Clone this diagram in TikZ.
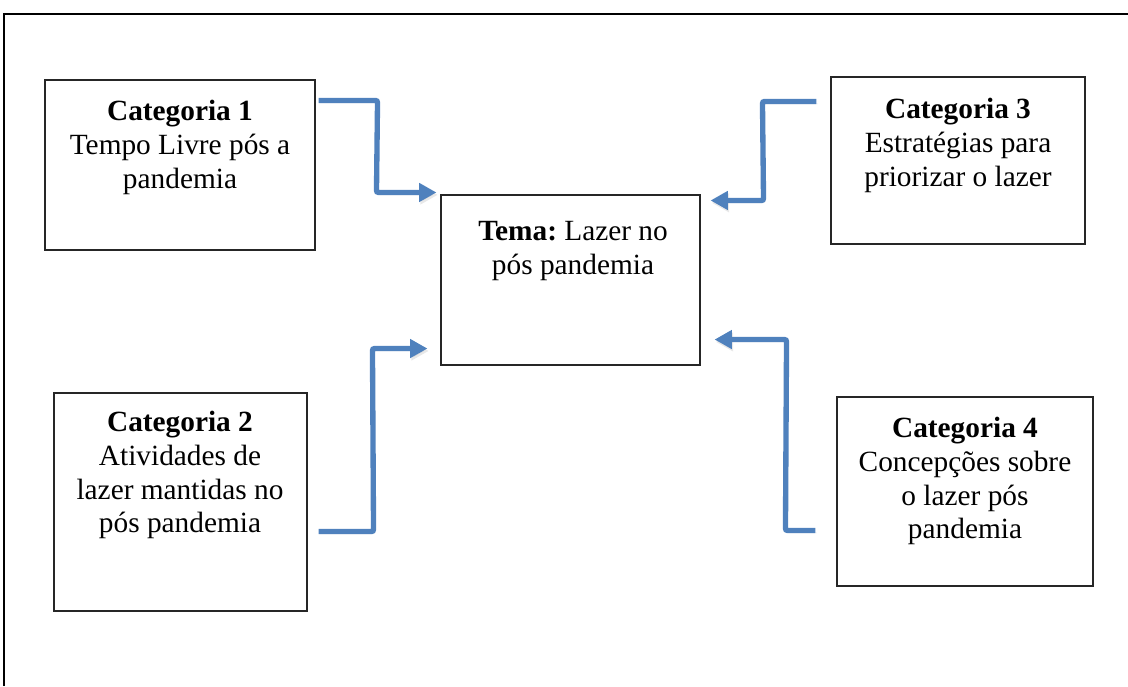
\documentclass[tikz,border=0pt]{standalone}
\usepackage{fontspec}
\setmainfont{Liberation Serif}
\usetikzlibrary{arrows.meta,fit,calc}
\definecolor{arrblue}{HTML}{4F81BD}
\begin{document}
\begin{tikzpicture}[x=0.75pt,y=-0.75pt,
  box/.style={draw=black!85,line width=0.8pt,inner sep=0pt},
  txt/.style={anchor=north,align=center,inner sep=0pt,font=\fontsize{22}{25.3}\selectfont\frenchspacing},
  arr/.style={line width=4pt,draw=arrblue,rounded corners=1.5pt,
    -{Triangle[length=13pt,width=13.5pt]},
    preaction={draw=black!30,opacity=0.3,transform canvas={shift={(1pt,-1.8pt)}}}}]
\useasboundingbox (0,0) rectangle (1128,686);
% page frame (left and top edges)
\draw[line width=0.9pt] (4,686) -- (4,14) -- (1128,14);
% boxes
\node[box,fit={(45,80) (315,250)}] (c1) {};
\node[box,fit={(831,77) (1085,244)}] (c3) {};
\node[box,fit={(441,195) (700,365)}] (tema) {};
\node[box,fit={(54,393) (307,611)}] (c2) {};
\node[box,fit={(837,397) (1093,586)}] (c4) {};
% texts
\node[txt] (t1) at (180,100) {\textbf{Categoria 1}\\Tempo Livre pós a\\pandemia};
\node[txt] (t3) at (958,98) {\textbf{Categoria 3}\\Estratégias para\\priorizar o lazer};
\node[txt] (tt) at (573,221) {\textbf{Tema:} Lazer no\\pós pandemia};
\node[txt] (t2) at (180,411) {\textbf{Categoria 2}\\Atividades de\\lazer mantidas no\\pós pandemia};
\node[txt] (t4) at (965,417) {\textbf{Categoria 4}\\Concepções sobre\\o lazer pós\\pandemia};
% connectors
\draw[arr] ($(c1.north east)+(3,21)$) -- ($(c1.north east)+(62,21)$)
  -- ($(tema.north west)+(-64,-2)$) -- ($(tema.north west)+(-4,-2)$);
\draw[arr] ($(c3.north west)+(-14,25)$) -- ($(c3.north west)+(-68,25)$)
  -- ($(tema.north east)+(63,6)$) -- ($(tema.north east)+(10,6)$);
\draw[arr] ($(c2.north east)+(11,139)$) -- ($(c2.north east)+(66,139)$)
  -- ($(tema.south west)+(-68,-17)$) -- ($(tema.south west)+(-13,-17)$);
\draw[arr] ($(c4.north west)+(-21,134)$) -- ($(c4.north west)+(-51,134)$)
  -- ($(tema.south east)+(86,-26)$) -- ($(tema.south east)+(14,-26)$);
\end{tikzpicture}
\end{document}
